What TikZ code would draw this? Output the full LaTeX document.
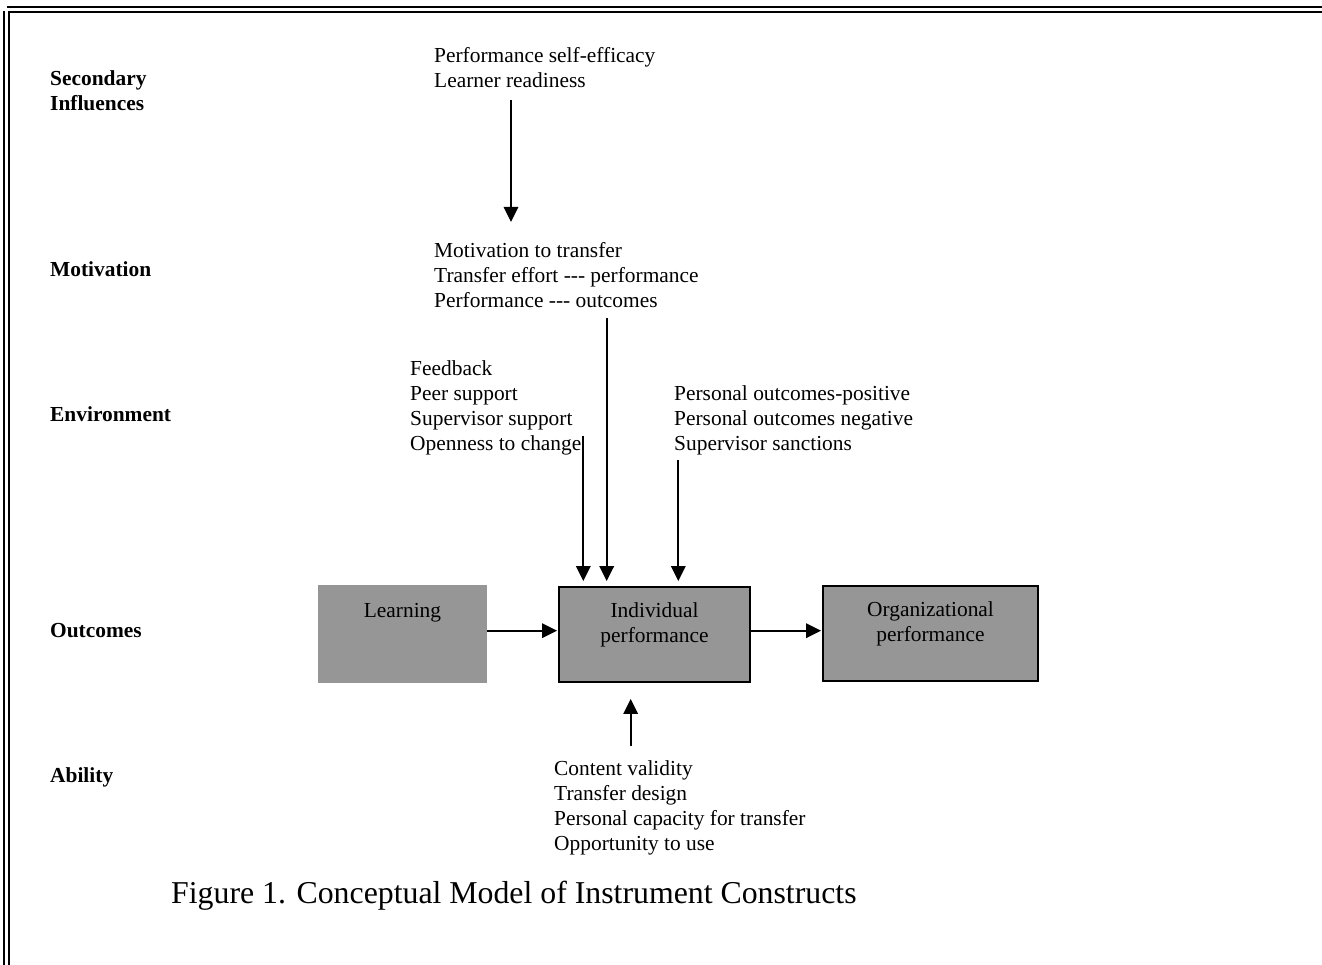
\documentclass[tikz,border=0pt]{standalone}
\usepackage{fontspec}
\setmainfont{Liberation Serif}
\usetikzlibrary{arrows.meta}
\definecolor{boxgray}{RGB}{150,150,150}
\newcommand\bodysize{\fontsize{21.4}{25}\selectfont}
\newcommand\hy{\mbox{-}}
\begin{document}
\begin{tikzpicture}[x=1pt,y=-1pt,
  txt/.style={font=\bodysize, inner sep=0pt, align=left, anchor=north west},
  lab/.style={font=\bodysize\bfseries, inner sep=0pt, align=left},
  cbox/.style={fill=boxgray, inner sep=0pt, font=\bodysize, align=center},
  bordered/.style={draw=black, line width=1.8pt},
  arr/.style={-{Triangle[length=15pt,width=14.5pt]}, line width=1.8pt},
  frameline/.style={line width=2pt}]
\useasboundingbox (0,0) rectangle (1322,965);
% frame
\draw[frameline] (7,6.7) -- (1322,6.7);
\draw[frameline] (9.2,965) -- (9.2,12.5) -- (1322,12.5);
\draw[frameline] (4.2,11) -- (4.2,965);
% row labels
\node[lab, anchor=north west] (lsec) at (50,67.5) {\strut Secondary\\Influences};
\node[lab, anchor=base west] (lmot) at (50,277) {Motivation};
\node[lab, anchor=base west] (lenv) at (50,421) {Environment};
\node[lab, anchor=base west] (lout) at (50,637) {Outcomes};
\node[lab, anchor=base west] (labl) at (50,782) {Ability};
% text blocks
\node[txt] (sec) at (434,45.2) {\strut Performance self-efficacy\\Learner readiness\strut};
\node[txt] (mot) at (434,240.2) {\strut Motivation to transfer\\Transfer effort \hy\hy\hy{} performance\\Performance \hy\hy\hy{} outcomes\strut};
\node[txt] (envL) at (410,357.5) {\strut Feedback\\Peer support\\Supervisor support\\Openness to change\strut};
\node[txt] (envR) at (674,382.5) {\strut Personal outcomes-positive\\Personal outcomes negative\\Supervisor sanctions\strut};
\node[txt] (abl) at (554,757.5) {\strut Content validity\\Transfer design\\Personal capacity for transfer\\Opportunity to use\strut};
% boxes
\node[cbox, minimum width=169pt, minimum height=98pt] (learn) at (402.5,634) {\strut Learning\rule[-50pt]{0pt}{0pt}};
\node[cbox, bordered, minimum width=191pt, minimum height=95pt] (ind) at (654.5,634.5) {\strut Individual\\performance\rule[-27.5pt]{0pt}{0pt}};
\node[cbox, bordered, minimum width=215pt, minimum height=95pt] (org) at (930.5,633.5) {\strut Organizational\\performance\rule[-27.5pt]{0pt}{0pt}};
% x positions of vertical connectors
\coordinate (xa) at (511,0);
\coordinate (xb) at (583.3,0);
\coordinate (xc) at (606.7,0);
\coordinate (xd) at (678.3,0);
\coordinate (xe) at (630.7,0);
% connectors
\draw[arr, shorten <=4.8pt, shorten >=18.2pt] (sec.south -| xa) -- (mot.north -| xa);
\draw[arr, shorten <=2.8pt, shorten >=5pt] (mot.south -| xc) -- (ind.north -| xc);
\draw[arr, shorten <=-22pt, shorten >=5pt] (envL.south -| xb) -- (ind.north -| xb);
\draw[arr, shorten <=2.5pt, shorten >=5pt] (envR.south -| xd) -- (ind.north -| xd);
\draw[arr, shorten <=11.5pt, shorten >=16pt] (abl.north -| xe) -- (ind.south -| xe);
\coordinate (la) at ([yshift=3.3pt]learn.east);
\draw[arr, shorten >=1pt] (la) -- (la -| ind.west);
\coordinate (ia) at ([yshift=3.8pt]ind.east);
\draw[arr, shorten >=1pt] (ia) -- (ia -| org.west);
% caption
\node[font=\fontsize{31.8}{36}\selectfont, anchor=base west, inner sep=0pt] (cap) at (171,903) {Figure 1. Conceptual Model of Instrument Constructs};
\end{tikzpicture}
\end{document}
